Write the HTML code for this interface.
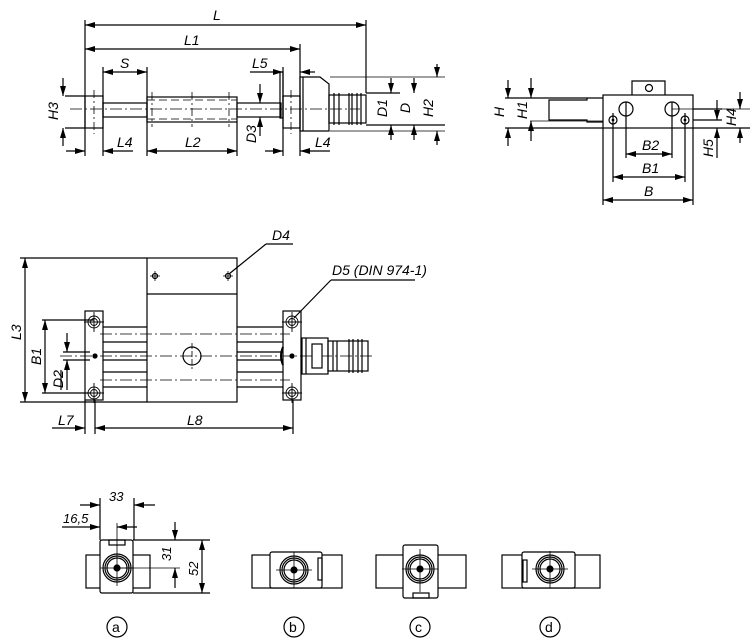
<!DOCTYPE html>
<html><head><meta charset="utf-8"><style>
html,body{margin:0;padding:0;background:#fff;}
svg{display:block;}
text{font-family:"Liberation Sans",sans-serif;font-style:italic;font-size:14px;fill:#000;}
</style></head><body>
<svg width="750" height="640" viewBox="0 0 750 640" xmlns="http://www.w3.org/2000/svg">
<defs>
<marker id="a" viewBox="0 0 10 6" refX="10" refY="3" markerWidth="10" markerHeight="6" orient="auto-start-reverse" markerUnits="userSpaceOnUse"><path d="M0,0L10,3L0,6z" fill="#000"/></marker>
</defs>
<g stroke="#000" fill="none" stroke-width="1.2">
<line x1="85" y1="20" x2="85" y2="156"/>
<line x1="366" y1="20" x2="366" y2="93"/>
<line x1="300" y1="44" x2="300" y2="156"/>
<line x1="103" y1="67" x2="103" y2="156"/>
<line x1="147" y1="67" x2="147" y2="156"/>
<line x1="237" y1="122" x2="237" y2="156"/>
<line x1="283" y1="67" x2="283" y2="156"/>
<line x1="85" y1="25" x2="366" y2="25" marker-start="url(#a)" marker-end="url(#a)"/>
<line x1="85" y1="49" x2="300" y2="49" marker-start="url(#a)" marker-end="url(#a)"/>
<line x1="103" y1="72" x2="147" y2="72" marker-start="url(#a)" marker-end="url(#a)"/>
<line x1="250" y1="72" x2="283" y2="72" marker-end="url(#a)"/>
<line x1="300" y1="72" x2="315" y2="72" marker-start="url(#a)"/>
<line x1="66" y1="151" x2="85" y2="151" marker-end="url(#a)"/>
<line x1="103" y1="151" x2="133" y2="151" marker-start="url(#a)"/>
<line x1="147" y1="151" x2="237" y2="151" marker-start="url(#a)" marker-end="url(#a)"/>
<line x1="265" y1="151" x2="283" y2="151" marker-end="url(#a)"/>
<line x1="300" y1="151" x2="330" y2="151" marker-start="url(#a)"/>
<line x1="65" y1="96" x2="85" y2="96"/><line x1="65" y1="128" x2="85" y2="128"/>
<line x1="63" y1="78" x2="63" y2="96" marker-end="url(#a)"/>
<line x1="63" y1="146" x2="63" y2="128" marker-end="url(#a)"/>
<line x1="260" y1="84" x2="260" y2="103" marker-end="url(#a)"/>
<line x1="260" y1="136" x2="260" y2="117" marker-end="url(#a)"/>
<line x1="366" y1="93" x2="400" y2="93"/><line x1="366" y1="125" x2="445" y2="125"/>
<line x1="330" y1="77" x2="445" y2="77" stroke-width="0.8"/><line x1="330" y1="131" x2="445" y2="131" stroke-width="0.8"/>
<line x1="391" y1="78" x2="391" y2="93" marker-end="url(#a)"/>
<line x1="391" y1="140" x2="391" y2="125" marker-end="url(#a)"/>
<line x1="414" y1="78" x2="414" y2="93" marker-end="url(#a)"/>
<line x1="414" y1="140" x2="414" y2="125" marker-end="url(#a)"/>
<line x1="437" y1="64" x2="437" y2="77" marker-end="url(#a)"/>
<line x1="437" y1="145" x2="437" y2="131" marker-end="url(#a)"/>
<rect x="85" y="96" width="18" height="32"/>
<rect x="103" y="103" width="44" height="14"/>
<rect x="147" y="97" width="90" height="25"/>
<rect x="237" y="103" width="44" height="14"/>
<rect x="280" y="72" width="3" height="46"/>
<rect x="283" y="96" width="17" height="32"/>
<path d="M300,77 L320,77 L329,84 L329,131 L300,131 Z"/>
<line x1="303" y1="77" x2="303" y2="131"/>
<rect x="329" y="95" width="37" height="28"/>
<line x1="334" y1="93" x2="334" y2="125"/><line x1="339" y1="93" x2="339" y2="125"/>
<line x1="349" y1="93" x2="349" y2="125"/><line x1="352" y1="93" x2="352" y2="125"/>
<line x1="357" y1="93" x2="357" y2="125"/><line x1="361" y1="93" x2="361" y2="125"/>
<line x1="70" y1="109" x2="360" y2="109" stroke-dasharray="12,3,2,3" stroke-width="0.8"/>
<line x1="94" y1="90" x2="94" y2="134" stroke-dasharray="8,3,2,3" stroke-width="0.8"/>
<line x1="291" y1="90" x2="291" y2="134" stroke-dasharray="8,3,2,3" stroke-width="0.8"/>
<line x1="147" y1="100" x2="237" y2="100" stroke-dasharray="8,4" stroke-width="0.8"/>
<line x1="147" y1="119" x2="237" y2="119" stroke-dasharray="8,4" stroke-width="0.8"/>
<line x1="152" y1="92" x2="152" y2="127" stroke-dasharray="8,3,2,3" stroke-width="0.8"/>
<line x1="192" y1="92" x2="192" y2="127" stroke-dasharray="8,3,2,3" stroke-width="0.8"/>
<line x1="229" y1="92" x2="229" y2="127" stroke-dasharray="8,3,2,3" stroke-width="0.8"/>

<rect x="603" y="95" width="90" height="33"/>
<path d="M632,95 L632,81 L665,81 L665,95"/>
<circle cx="649" cy="88" r="3.5"/>
<circle cx="626" cy="109" r="7"/><circle cx="672" cy="109" r="7"/>
<circle cx="613" cy="120" r="4"/><circle cx="685" cy="120" r="4"/>
<circle cx="613" cy="120" r="0.8" fill="#000"/><circle cx="685" cy="120" r="0.8" fill="#000"/>
<line x1="534" y1="98" x2="603" y2="98"/>
<path d="M587,98 L587,100 L549,100 L549,120 L587,120 L587,122 L603,122"/>
<line x1="530" y1="121" x2="603" y2="121" stroke-width="0.8"/>
<line x1="505" y1="128" x2="603" y2="128"/>
<line x1="505" y1="98" x2="534" y2="98"/>
<line x1="693" y1="109" x2="722" y2="109"/><line x1="693" y1="128" x2="750" y2="128"/>
<line x1="693" y1="120" x2="722" y2="120"/>
<line x1="672" y1="109" x2="750" y2="109" stroke-width="0.8"/>
<line x1="508" y1="80" x2="508" y2="98" marker-end="url(#a)"/>
<line x1="508" y1="146" x2="508" y2="128" marker-end="url(#a)"/>
<line x1="531" y1="78" x2="531" y2="98" marker-end="url(#a)"/>
<line x1="531" y1="141" x2="531" y2="121" marker-end="url(#a)"/>
<line x1="717" y1="100" x2="717" y2="120" marker-end="url(#a)"/>
<line x1="717" y1="158" x2="717" y2="128" marker-end="url(#a)"/>
<line x1="740" y1="92" x2="740" y2="109" marker-end="url(#a)"/>
<line x1="740" y1="143" x2="740" y2="128" marker-end="url(#a)"/>
<line x1="626" y1="102" x2="626" y2="158"/><line x1="672" y1="102" x2="672" y2="158"/>
<line x1="613" y1="113" x2="613" y2="182"/><line x1="685" y1="113" x2="685" y2="182"/>
<line x1="603" y1="128" x2="603" y2="205"/><line x1="693" y1="128" x2="693" y2="205"/>
<line x1="626" y1="154" x2="672" y2="154" marker-start="url(#a)" marker-end="url(#a)"/>
<line x1="613" y1="177" x2="685" y2="177" marker-start="url(#a)" marker-end="url(#a)"/>
<line x1="603" y1="200" x2="693" y2="200" marker-start="url(#a)" marker-end="url(#a)"/>

<rect x="147" y="258" width="90" height="144"/>
<line x1="147" y1="294" x2="237" y2="294"/>
<circle cx="155" cy="276" r="2.5"/><circle cx="228" cy="276" r="2.5"/>
<path d="M150,276h10M155,271v10M223,276h10M228,271v10" stroke-width="0.8"/>
<rect x="85" y="311" width="18" height="89"/>
<rect x="283" y="311" width="18" height="89"/>
<g stroke-width="0.9">
<circle cx="94" cy="322" r="6"/><circle cx="94" cy="322" r="3.5"/>
<circle cx="94" cy="393" r="6"/><circle cx="94" cy="393" r="3.5"/>
<circle cx="292" cy="322" r="6"/><circle cx="292" cy="322" r="3.5"/>
<circle cx="292" cy="393" r="6"/><circle cx="292" cy="393" r="3.5"/>
<path d="M84,322h20M94,312v20M84,393h20M94,383v20M282,322h20M292,312v20M282,393h20M292,383v20"/>
</g>
<line x1="103" y1="327" x2="147" y2="327"/><line x1="237" y1="327" x2="283" y2="327"/>
<line x1="103" y1="387" x2="147" y2="387"/><line x1="237" y1="387" x2="283" y2="387"/>
<line x1="103" y1="342" x2="147" y2="342"/><line x1="237" y1="342" x2="283" y2="342"/>
<line x1="103" y1="372" x2="147" y2="372"/><line x1="237" y1="372" x2="283" y2="372"/>
<line x1="103" y1="352" x2="147" y2="352"/><line x1="237" y1="352" x2="283" y2="352"/>
<line x1="103" y1="360" x2="147" y2="360"/><line x1="237" y1="360" x2="283" y2="360"/>
<line x1="100" y1="334" x2="290" y2="334" stroke-dasharray="12,3,2,3" stroke-width="0.8"/>
<line x1="100" y1="380" x2="290" y2="380" stroke-dasharray="12,3,2,3" stroke-width="0.8"/>
<line x1="60" y1="356" x2="372" y2="356" stroke-dasharray="12,3,2,3" stroke-width="0.8"/>
<circle cx="192" cy="356" r="9"/>
<line x1="192" y1="343" x2="192" y2="369" stroke-dasharray="6,2" stroke-width="0.8"/>
<circle cx="95" cy="356" r="2" fill="#000"/><circle cx="292" cy="356" r="2" fill="#000"/>
<path d="M283,347 Q279,356 283,365" stroke-width="2"/>
<rect x="302" y="338" width="26" height="36"/>
<line x1="306" y1="338" x2="306" y2="374"/>
<rect x="312" y="344" width="10" height="24" fill="#fff"/>
<rect x="328" y="341" width="40" height="30"/>
<line x1="333" y1="341" x2="333" y2="371"/><line x1="337" y1="341" x2="337" y2="371"/>
<line x1="349" y1="339" x2="349" y2="373"/><line x1="353" y1="339" x2="353" y2="373"/>
<line x1="358" y1="339" x2="358" y2="373"/><line x1="362" y1="339" x2="362" y2="373"/>
<line x1="20" y1="258" x2="147" y2="258"/><line x1="20" y1="402" x2="147" y2="402"/>
<line x1="25" y1="258" x2="25" y2="402" marker-start="url(#a)" marker-end="url(#a)"/>
<line x1="42" y1="320" x2="94" y2="320"/><line x1="42" y1="393" x2="90" y2="393"/>
<line x1="45" y1="320" x2="45" y2="393" marker-start="url(#a)" marker-end="url(#a)"/>
<line x1="63" y1="352" x2="90" y2="352"/><line x1="63" y1="360" x2="90" y2="360"/>
<line x1="67" y1="333" x2="67" y2="352" marker-end="url(#a)"/>
<line x1="67" y1="390" x2="67" y2="360" marker-end="url(#a)"/>
<line x1="61" y1="390" x2="61" y2="370"/>
<line x1="85" y1="400" x2="85" y2="434"/><line x1="95" y1="400" x2="95" y2="434"/>
<line x1="293" y1="400" x2="293" y2="434"/>
<line x1="52" y1="428" x2="85" y2="428" marker-end="url(#a)"/>
<line x1="95" y1="428" x2="293" y2="428" marker-start="url(#a)" marker-end="url(#a)"/>
<line x1="229" y1="274" x2="266" y2="244"/><line x1="266" y1="244" x2="293" y2="244"/>
<line x1="294" y1="318" x2="331" y2="280"/><line x1="331" y1="280" x2="415" y2="280"/>

<rect x="86" y="555" width="64" height="33"/>
<rect x="100" y="540" width="33" height="53" rx="2" fill="#fff"/>
<rect x="109" y="540" width="16" height="5"/>
<circle cx="117" cy="568" r="14"/><circle cx="117" cy="568" r="12"/><circle cx="117" cy="568" r="10"/>
<circle cx="117" cy="568" r="3" fill="#000"/>
<path d="M100,568h34M117,523v63" stroke-width="0.8"/>
<line x1="100" y1="498" x2="100" y2="540"/><line x1="134" y1="498" x2="134" y2="540"/>
<line x1="80" y1="505" x2="100" y2="505" marker-end="url(#a)"/><line x1="155" y1="505" x2="134" y2="505" marker-end="url(#a)"/>
<line x1="62" y1="527" x2="100" y2="527" marker-end="url(#a)"/><line x1="137" y1="527" x2="117" y2="527" marker-end="url(#a)"/>
<line x1="133" y1="540" x2="210" y2="540"/><line x1="133" y1="593" x2="210" y2="593"/>
<line x1="117" y1="568" x2="180" y2="568" stroke-width="0.8"/>
<line x1="175" y1="522" x2="175" y2="540" marker-end="url(#a)"/>
<line x1="175" y1="588" x2="175" y2="568" marker-end="url(#a)"/>
<line x1="202" y1="540" x2="202" y2="593" marker-start="url(#a)" marker-end="url(#a)"/>
<rect x="252" y="555" width="90" height="33"/>
<rect x="270" y="552" width="52" height="36" rx="2" fill="#fff"/>
<rect x="318" y="558" width="4" height="22"/>
<circle cx="294" cy="570" r="14"/><circle cx="294" cy="570" r="12"/><circle cx="294" cy="570" r="10"/>
<circle cx="294" cy="570" r="3" fill="#000"/>
<path d="M276,570h36M294,552v36" stroke-width="0.8"/>
<rect x="376" y="555" width="90" height="33"/>
<rect x="403" y="545" width="35" height="53" rx="2" fill="#fff"/>
<rect x="413" y="593" width="16" height="5"/>
<circle cx="420" cy="569" r="14"/><circle cx="420" cy="569" r="12"/><circle cx="420" cy="569" r="10"/>
<circle cx="420" cy="569" r="3" fill="#000"/>
<path d="M402,569h36M420,549v43" stroke-width="0.8"/>
<rect x="502" y="555" width="98" height="33"/>
<rect x="522" y="552" width="53" height="36" rx="2" fill="#fff"/>
<rect x="523" y="560" width="4" height="22"/>
<circle cx="550" cy="569" r="14"/><circle cx="550" cy="569" r="12"/><circle cx="550" cy="569" r="10"/>
<circle cx="550" cy="569" r="3" fill="#000"/>
<path d="M532,569h36M550,551v37" stroke-width="0.8"/>
<circle cx="117" cy="627" r="10"/><circle cx="294" cy="627" r="10"/>
<circle cx="420" cy="627" r="10"/><circle cx="550" cy="627" r="10"/>
</g>
<text x="213" y="20">L</text>
<text x="184" y="45">L1</text>
<text x="120" y="68">S</text>
<text x="252" y="68">L5</text>
<text x="117" y="147">L4</text>
<text x="185" y="147">L2</text>
<text x="315" y="147">L4</text>
<text transform="translate(58,120) rotate(-90)">H3</text>
<text transform="translate(256,143) rotate(-90)">D3</text>
<text transform="translate(387,117) rotate(-90)">D1</text>
<text transform="translate(410,113) rotate(-90)">D</text>
<text transform="translate(433,117) rotate(-90)">H2</text>
<text transform="translate(504,117) rotate(-90)">H</text>
<text transform="translate(527,119) rotate(-90)">H1</text>
<text transform="translate(713,157) rotate(-90)">H5</text>
<text transform="translate(736,126) rotate(-90)">H4</text>
<text x="642" y="150">B2</text>
<text x="642" y="173">B1</text>
<text x="644" y="196">B</text>
<text x="272" y="240">D4</text>
<text x="332" y="275">D5 (DIN 974-1)</text>
<text transform="translate(21,340) rotate(-90)">L3</text>
<text transform="translate(41,365) rotate(-90)">B1</text>
<text transform="translate(63,388) rotate(-90)">D2</text>
<text x="58" y="425">L7</text>
<text x="187" y="425">L8</text>
<text x="109" y="501" style="font-size:13px">33</text>
<text x="63" y="523" style="font-size:13px">16,5</text>
<text transform="translate(171,561) rotate(-90)" style="font-size:13px">31</text>
<text transform="translate(198,576) rotate(-90)" style="font-size:13px">52</text>
<text x="112" y="632" style="font-style:normal">a</text>
<text x="289" y="632" style="font-style:normal">b</text>
<text x="415" y="632" style="font-style:normal">c</text>
<text x="545" y="632" style="font-style:normal">d</text>
</svg>
</body></html>
